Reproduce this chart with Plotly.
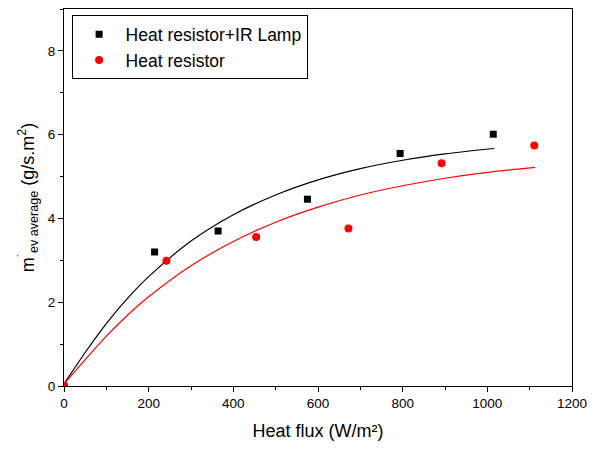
import plotly.graph_objects as go

# Measured points
x_lamp = [0, 214, 364, 575, 794, 1014]
y_lamp = [0, 3.20, 3.70, 4.46, 5.55, 6.01]
x_res = [0, 242, 454, 672, 892, 1111]
y_res = [0, 2.99, 3.56, 3.76, 5.32, 5.74]

# Fitted curves
x_fit_lamp = [0, 50, 100, 150, 200, 300, 400, 500, 600, 700, 800, 900, 1016]
y_fit_lamp = [0.05, 0.80, 1.49, 2.09, 2.61, 3.46, 4.09, 4.56, 4.92, 5.19, 5.39, 5.54, 5.67]
x_fit_res = [0, 50, 100, 150, 200, 300, 400, 500, 600, 700, 800, 900, 1000, 1113]
y_fit_res = [0.05, 0.63, 1.19, 1.69, 2.13, 2.87, 3.45, 3.91, 4.27, 4.56, 4.78, 4.96, 5.10, 5.22]

FONT = "Liberation Sans, Arial, sans-serif"

fig = go.Figure()
fig.add_trace(go.Scatter(x=x_fit_lamp, y=y_fit_lamp, mode="lines", line=dict(color="black", width=1.2, shape="spline"), showlegend=False, hoverinfo="skip"))
fig.add_trace(go.Scatter(x=x_fit_res, y=y_fit_res, mode="lines", line=dict(color="red", width=1.2, shape="spline"), showlegend=False, hoverinfo="skip"))
fig.add_trace(go.Scatter(x=x_lamp, y=y_lamp, mode="markers", name="Heat resistor+IR Lamp",
                         marker=dict(symbol="square", color="black", size=7)))
fig.add_trace(go.Scatter(x=x_res, y=y_res, mode="markers", name="Heat resistor",
                         marker=dict(symbol="circle", color="red", size=8)))

axis_common = dict(showline=True, linecolor="black", linewidth=1.3, mirror=True, showgrid=False, zeroline=False,
                   ticks="outside", ticklen=5, tickwidth=1, tickcolor="black",
                   tickfont=dict(family=FONT, size=13.5, color="black"))

fig.update_layout(
    width=598, height=449,
    margin=dict(l=64, r=26, t=9, b=63),
    paper_bgcolor="white", plot_bgcolor="white",
    font=dict(family=FONT, color="black"),
    xaxis=dict(range=[0, 1200], dtick=200, title=dict(text="Heat flux (W/m²)", font=dict(family=FONT, size=18), standoff=14),
               minor=dict(dtick=100, ticks="outside", ticklen=3, tickcolor="black"), **axis_common),
    yaxis=dict(range=[0, 9], dtick=2, title=dict(text="m<sup>˙</sup><sub>ev average</sub> (g/s.m<sup>2</sup>)", font=dict(family=FONT, size=18), standoff=8),
               minor=dict(dtick=1, ticks="outside", ticklen=3, tickcolor="black"), **axis_common),
    legend=dict(x=0.015, y=0.983, xanchor="left", yanchor="top", bordercolor="black", borderwidth=1,
                bgcolor="white", font=dict(family=FONT, size=17.5), itemwidth=43, tracegroupgap=0),
)

fig.write_html("out.html")
